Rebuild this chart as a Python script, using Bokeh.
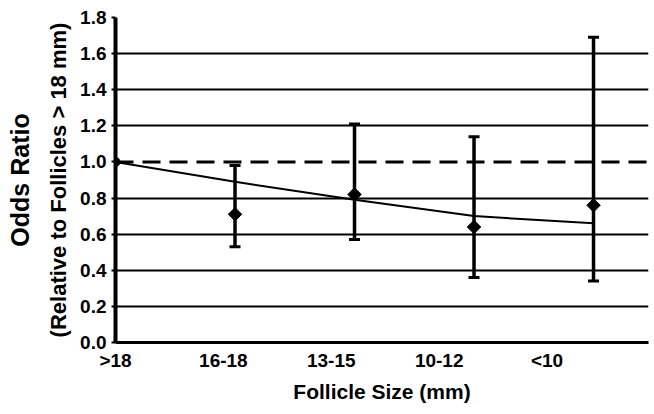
from bokeh.plotting import figure
from bokeh.models import Range1d, FixedTicker, Span, Title
from bokeh.embed import file_html
from bokeh.resources import INLINE

categories = [">18", "16-18", "13-15", "10-12", "<10"]
odds_ratio = [1.0, 0.71, 0.82, 0.64, 0.76]
ci_lower = [1.0, 0.53, 0.57, 0.36, 0.34]
ci_upper = [1.0, 0.98, 1.21, 1.14, 1.69]
trend = [1.0, 0.89, 0.79, 0.70, 0.66]
reference_level = 1.0
y_ticks = [0.0, 0.2, 0.4, 0.6, 0.8, 1.0, 1.2, 1.4, 1.6, 1.8]

FONT = "Liberation Sans"
idx = list(range(len(categories)))

p = figure(frame_width=533, frame_height=325, output_backend="svg", toolbar_location=None,
           x_range=Range1d(0, 4.94), y_range=Range1d(0, 1.8),
           min_border_left=113, min_border_right=8, min_border_top=17, min_border_bottom=72)
p.extra_x_ranges = {"pts": Range1d(0, 4.46)}
p.outline_line_color = None
p.background_fill_color = "white"

# axes
p.xaxis.ticker = FixedTicker(ticks=idx)
p.xaxis.major_label_overrides = {i: c for i, c in zip(idx, categories)}
p.xaxis.major_tick_line_color = None
p.xaxis.minor_tick_line_color = None
p.xaxis.axis_line_color = "black"
p.xaxis.axis_line_width = 3
p.xaxis.major_label_text_font = FONT
p.xaxis.major_label_text_font_style = "bold"
p.xaxis.major_label_text_font_size = "19px"
p.xaxis.major_label_text_color = "black"
p.xaxis.major_label_standoff = 1
p.xaxis.axis_label = "Follicle Size (mm)"
p.xaxis.axis_label_text_font = FONT
p.xaxis.axis_label_text_font_style = "bold"
p.xaxis.axis_label_text_font_size = "21px"
p.xaxis.axis_label_text_color = "black"
p.xaxis.axis_label_standoff = 6

p.yaxis.ticker = FixedTicker(ticks=y_ticks)
p.yaxis.major_label_overrides = {t: f"{t:.1f}" for t in y_ticks}
p.yaxis.axis_line_color = "black"
p.yaxis.axis_line_width = 4
p.yaxis.major_tick_line_color = "black"
p.yaxis.major_tick_line_width = 2
p.yaxis.major_tick_out = 4
p.yaxis.major_tick_in = 0
p.yaxis.minor_tick_line_color = None
p.yaxis.major_label_text_font = FONT
p.yaxis.major_label_text_font_style = "bold"
p.yaxis.major_label_text_font_size = "19px"
p.yaxis.major_label_text_color = "black"
p.yaxis.major_label_standoff = 5

p.xgrid.grid_line_color = None
p.ygrid.ticker = FixedTicker(ticks=[t for t in y_ticks[1:] if t != reference_level])
p.ygrid.grid_line_color = "black"
p.ygrid.grid_line_width = 2

sub = Title(text="(Relative to Follicles > 18 mm)", align="center", text_font=FONT,
            text_font_style="bold", text_font_size="22px", text_color="black", standoff=14)
main = Title(text="Odds Ratio", align="center", text_font=FONT,
             text_font_style="bold", text_font_size="25px", text_color="black", standoff=6)
p.add_layout(sub, "left")
p.add_layout(main, "left")

# reference line
p.add_layout(Span(location=reference_level, dimension="width", line_color="black",
                  line_width=3, line_dash="18 9"))

# trend line
p.line(idx, trend, x_range_name="pts", line_color="black", line_width=2)

# error bars
p.segment(x0=idx[1:], y0=ci_lower[1:], x1=idx[1:], y1=ci_upper[1:], x_range_name="pts",
          line_color="black", line_width=3.5)
p.scatter(idx[1:], ci_lower[1:], marker="dash", size=11, line_width=3, line_color="black",
          x_range_name="pts")
p.scatter(idx[1:], ci_upper[1:], marker="dash", size=11, line_width=3, line_color="black",
          x_range_name="pts")

# points
p.scatter(idx[:1], odds_ratio[:1], marker="circle", size=9, color="black", x_range_name="pts")
p.scatter(idx[1:], odds_ratio[1:], marker="square", angle=0.785398, size=9.5, color="black",
          x_range_name="pts")

open("out.html", "w").write(file_html(p, INLINE))
